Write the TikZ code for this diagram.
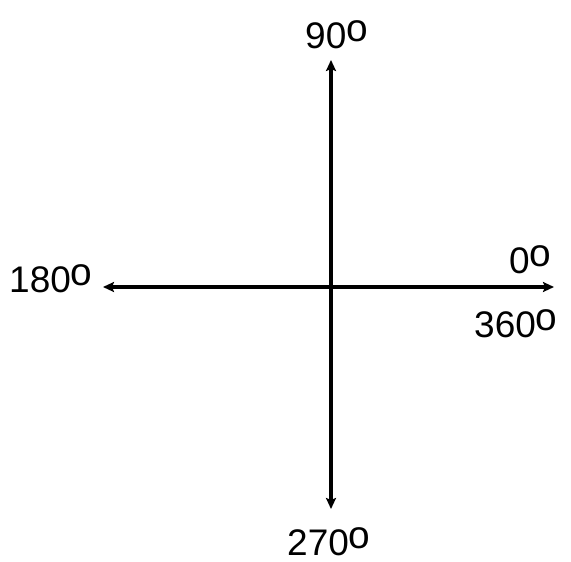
\documentclass[tikz,border=0pt]{standalone}
\usepackage{fontspec}
\setmainfont{Liberation Sans}
\usetikzlibrary{arrows.meta}
\newcommand{\dg}{\raisebox{0.17em}{\scalebox{1.05}{o}}}
\tikzset{
  axis/.style={line width=3.5pt, -{Stealth[length=11pt,width=10pt,inset=2pt]}},
  lbl/.style={font=\fontsize{37pt}{40pt}\selectfont, inner sep=0pt, text depth=0pt, anchor=base west}
}
\begin{document}
\begin{tikzpicture}[x=1pt,y=-1pt]
\useasboundingbox (0,0) rectangle (571,562);
\coordinate (c) at (331,287);
\coordinate (t) at (331,60);
\coordinate (b) at (331,509);
\coordinate (l) at (103,287);
\coordinate (r) at (554,287);
\draw[axis] (c) -- (t);
\draw[axis] (c) -- (b);
\draw[axis] (c) -- (l);
\draw[axis] (c) -- (r);
\node[lbl] (n90) at (305,48) {90\dg};
\node[lbl] (n180) at (9,292) {180\dg};
\node[lbl] (n0) at (509,273) {0\dg};
\node[lbl] (n360) at (474,337) {360\dg};
\node[lbl] (n270) at (287,555) {270\dg};
\end{tikzpicture}
\end{document}
